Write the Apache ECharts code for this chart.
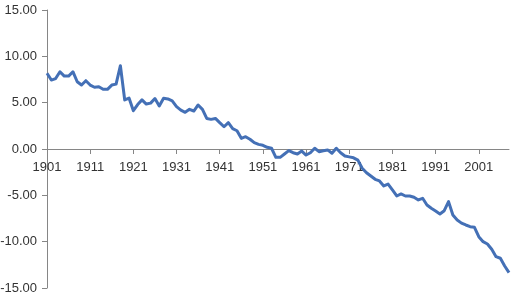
<!DOCTYPE html>
<html>
<head>
<meta charset="utf-8">
<script src="https://cdn.jsdelivr.net/npm/echarts@6/dist/echarts.min.js"></script>
<style>
html,body{margin:0;padding:0;background:#fff;}
#chart{width:514px;height:298px;}
</style>
</head>
<body>
<div id="chart"></div>
<script>
var startYear = 1901;
var endYear = 2008;
var years = [];
for (var y = startYear; y <= endYear; y++) years.push(String(y));

var values = [
  8.17, 7.44, 7.60, 8.34, 7.87, 7.87, 8.34, 7.26, 6.90, 7.37,
  6.90, 6.66, 6.72, 6.44, 6.44, 6.90, 7.00, 8.99, 5.29, 5.50,
  4.13, 4.80, 5.30, 4.85, 4.95, 5.45, 4.64, 5.47, 5.40, 5.20,
  4.57, 4.20, 3.96, 4.28, 4.10, 4.75, 4.28, 3.30, 3.20, 3.30,
  2.84, 2.40, 2.84, 2.20, 1.97, 1.15, 1.33, 1.05, 0.68, 0.50,
  0.40, 0.18, 0.08, -0.90, -0.90, -0.54, -0.18, -0.40, -0.54, -0.22,
  -0.65, -0.40, 0.08, -0.29, -0.18, -0.10, -0.46, 0.08, -0.40, -0.75,
  -0.85, -0.95, -1.20, -2.08, -2.56, -2.91, -3.27, -3.45, -3.99, -3.78,
  -4.42, -5.07, -4.85, -5.07, -5.07, -5.21, -5.50, -5.32, -6.04, -6.40,
  -6.69, -7.01, -6.66, -5.68, -7.12, -7.66, -8.00, -8.20, -8.38, -8.45,
  -9.46, -10.00, -10.25, -10.82, -11.62, -11.79, -12.62, -13.34
];

var yMin = -15, yMax = 15, yStep = 5;

var W = 514, H = 298;
var gridTop = 10, gridBottom = 10;
var gridHeight = H - gridTop - gridBottom;
// place the category axis where the value axis passes through zero
var zeroOffset = -gridHeight * (0 - yMin) / (yMax - yMin);

var chart = echarts.init(document.getElementById('chart'), null, {renderer: 'canvas'});
chart.setOption({
  animation: false,
  backgroundColor: '#ffffff',
  grid: {left: 47, right: 5, top: gridTop, bottom: gridBottom, containLabel: false, outerBoundsMode: 'none'},
  xAxis: {
    type: 'category',
    data: years,
    boundaryGap: false,
    position: 'bottom',
    offset: zeroOffset,
    axisLine: {show: true, onZero: false, lineStyle: {color: '#868686', width: 1}},
    axisTick: {show: true, interval: 9, length: 5, inside: false, lineStyle: {color: '#868686'}},
    axisLabel: {
      show: true, interval: 9, margin: 12, color: '#333333',
      fontFamily: 'Liberation Sans', fontSize: 13, hideOverlap: false
    },
    splitLine: {show: false}
  },
  yAxis: {
    type: 'value',
    min: yMin, max: yMax, interval: yStep,
    axisLine: {show: true, lineStyle: {color: '#868686', width: 1}},
    axisTick: {show: true, length: 5, lineStyle: {color: '#868686'}},
    axisLabel: {
      margin: 10, color: '#333333', fontFamily: 'Liberation Sans', fontSize: 13,
      formatter: function (v) { return v.toFixed(2); }
    },
    splitLine: {show: false}
  },
  series: [{
    type: 'line',
    data: values,
    showSymbol: false,
    symbol: 'none',
    smooth: false,
    lineStyle: {color: '#4470B6', width: 3, join: 'round'},
    itemStyle: {color: '#4470B6'}
  }]
});
</script>
</body>
</html>
